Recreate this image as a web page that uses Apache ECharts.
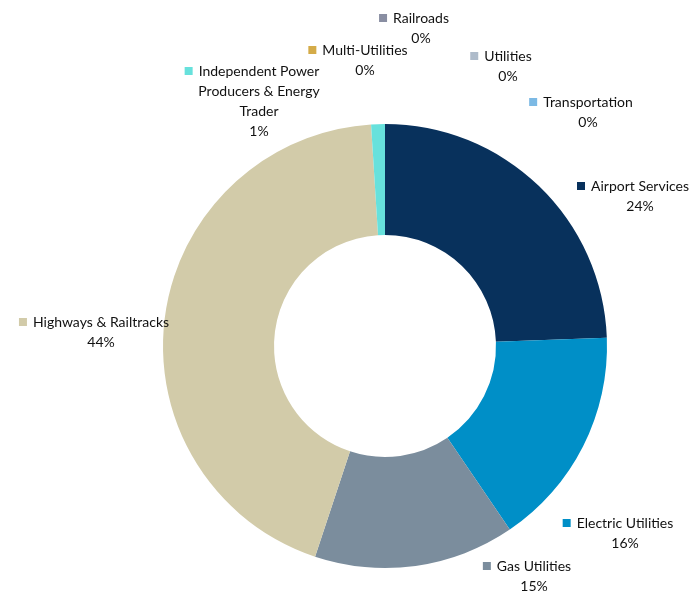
<!DOCTYPE html>
<html>
<head>
<meta charset="utf-8">
<script src="https://cdn.jsdelivr.net/npm/echarts@6/dist/echarts.min.js"></script>
<style>
  html, body { margin: 0; padding: 0; background: #fff; }
  #main { width: 695px; height: 593px; }
</style>
</head>
<body>
<div id="main"></div>
<script>
const sectors = ['Airport Services', 'Electric Utilities', 'Gas Utilities', 'Highways & Railtracks',
  'Independent Power\nProducers & Energy\nTrader', 'Multi-Utilities', 'Railroads', 'Utilities', 'Transportation']
const shares = [24.4, 16.1, 14.6, 43.9, 1.0, 0, 0, 0, 0]
const colors = ['#08315c', '#008fc7', '#7b8d9d', '#d2cba9', '#67e1dc', '#d4ab48', '#898ea2', '#aebbca', '#7cb9e4']
// where each label sits (centre of text block)
const labelSpots = [[640, 196], [625, 533], [534, 576], [101, 332], [259, 101],
  [365, 60], [421, 28], [508, 66], [588, 112]]

const total = shares.reduce((a, b) => a + b, 0)

const myChart = echarts.init(document.getElementById('main'))

const data = sectors.map((name, i) => ({
  name,
  value: shares[i],
  itemStyle: { color: colors[i] },
  label: {
    rich: {
      sq: { width: 8, height: 8, backgroundColor: colors[i] },
      gap: { width: 6 },
      sp: { width: 8 }
    }
  }
}))

myChart.setOption({
  animation: false,
  textStyle: { fontFamily: 'Lato' },
  series: [{
    type: 'pie',
    center: [385, 346],
    radius: [111, 222],
    startAngle: 90,
    clockwise: true,
    avoidLabelOverlap: false,
    itemStyle: { borderWidth: 0 },
    emphasis: { disabled: true },
    labelLine: { show: false },
    label: {
      show: true,
      position: 'outside',
      color: '#111',
      fontSize: 14,
      lineHeight: 20,
      align: 'center',
      formatter: (p) => {
        const lines = p.name.split('\n')
        lines[0] = '{sq|}{gap|}' + lines[0] + '{gap|}{sp|}'
        return lines.join('\n') + '\n' + Math.round(p.value / total * 100) + '%'
      }
    },
    labelLayout: (params) => {
      const s = labelSpots[params.dataIndex]
      return { x: s[0], y: s[1], align: 'center', verticalAlign: 'middle', hideOverlap: false }
    },
    data
  }]
})
</script>
</body>
</html>
